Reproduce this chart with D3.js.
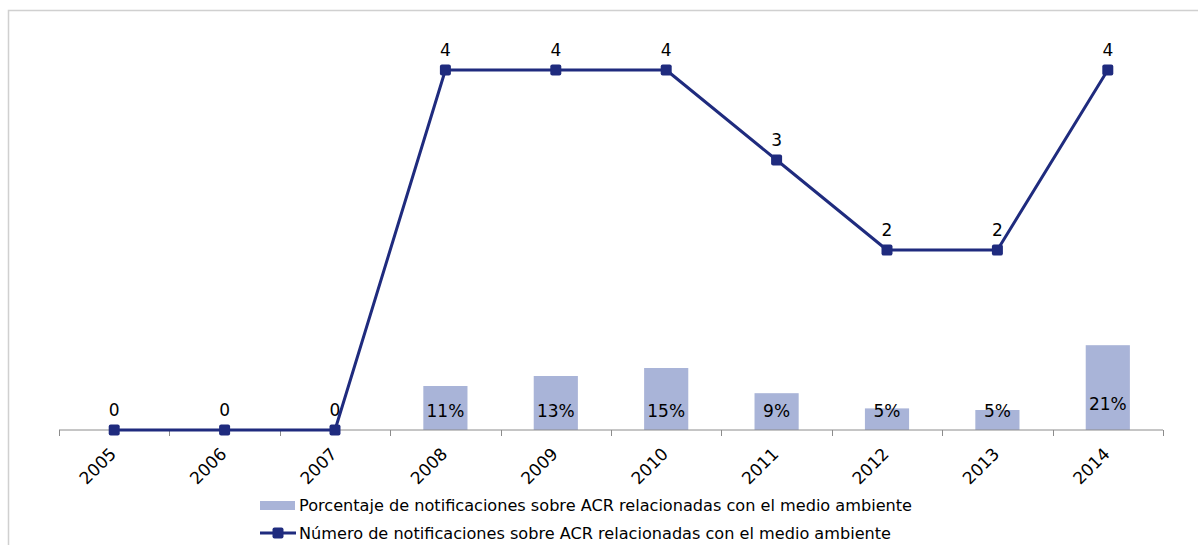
<!DOCTYPE html>
<html>
<head>
<meta charset="utf-8">
<script src="https://cdn.jsdelivr.net/npm/d3@7"></script>
<style>
  body { margin: 0; background: #fff; }
  svg { display: block; }
</style>
</head>
<body>
<div id="chart"></div>
<script>
const years = ["2005", "2006", "2007", "2008", "2009", "2010", "2011", "2012", "2013", "2014"]
const counts = [0, 0, 0, 4, 4, 4, 3, 2, 2, 4]
const shares = [null, null, null, 0.11, 0.135, 0.155, 0.092, 0.054, 0.05, 0.212]
const shareLabels = [null, null, null, "11%", "13%", "15%", "9%", "5%", "5%", "21%"]
const legendNames = [
  "Porcentaje de notificaciones sobre ACR relacionadas con el medio ambiente",
  "Número de notificaciones sobre ACR relacionadas con el medio ambiente"
]

const width = 1198, height = 545
const lineColor = "#1f2b7e"
const barColor = "#a9b4d8"
const font = "'DejaVu Sans', Verdana, sans-serif"

const svg = d3.select("#chart").append("svg")
  .attr("width", width)
  .attr("height", height)
  .style("font-family", font)

/* outer frame, runs off the right and bottom edge */
svg.append("path")
  .attr("d", `M8.5,${height + 2}V10.5H${width + 2}`)
  .attr("fill", "none")
  .attr("stroke", "#d0d0d0")
  .attr("stroke-width", 1.5)

const x = d3.scaleBand().domain(years).range([59, 1163])
const y = d3.scaleLinear().domain([0, 4]).range([430, 70])
const y2 = d3.scaleLinear().domain([0, 0.9]).range([430, 70])
const cx = d => x(d) + x.bandwidth() / 2

/* bars */
const barData = years.map((yr, i) => ({ yr, v: shares[i], label: shareLabels[i] })).filter(d => d.v != null)
const barW = x.bandwidth() * 0.4

svg.append("g")
  .selectAll("rect")
  .data(barData)
  .join("rect")
  .attr("x", d => cx(d.yr) - barW / 2)
  .attr("y", d => y2(d.v))
  .attr("width", barW)
  .attr("height", d => y2(0) - y2(d.v))
  .attr("fill", barColor)

svg.append("g")
  .selectAll("text")
  .data(barData)
  .join("text")
  .attr("x", d => cx(d.yr))
  .attr("y", d => Math.min(y2(d.v) + 65, y2(0) - 13.5))
  .attr("text-anchor", "middle")
  .attr("font-size", 17)
  .attr("fill", "#000")
  .text(d => d.label)

/* x axis */
const axis = svg.append("g").attr("transform", `translate(0,${y(0)})`)
axis.append("line")
  .attr("x1", 59).attr("x2", 1163)
  .attr("stroke", "#8c8c8c").attr("stroke-width", 1)
axis.selectAll("line.tick")
  .data(years.concat(["end"]))
  .join("line")
  .attr("class", "tick")
  .attr("x1", (d, i) => Math.round(59 + i * x.step()) + 0.5)
  .attr("x2", (d, i) => Math.round(59 + i * x.step()) + 0.5)
  .attr("y1", 0).attr("y2", 6)
  .attr("stroke", "#8c8c8c")
axis.selectAll("text")
  .data(years)
  .join("text")
  .attr("transform", d => `translate(${cx(d) + 3},${25}) rotate(-45)`)
  .attr("text-anchor", "end")
  .attr("font-size", 17)
  .attr("fill", "#000")
  .text(d => d)

/* line series */
const line = d3.line().x((d, i) => cx(years[i])).y(d => y(d))
svg.append("path")
  .datum(counts)
  .attr("d", line)
  .attr("fill", "none")
  .attr("stroke", lineColor)
  .attr("stroke-width", 3)
  .attr("stroke-linejoin", "round")

svg.append("g")
  .selectAll("rect")
  .data(counts)
  .join("rect")
  .attr("x", (d, i) => cx(years[i]) - 5.5)
  .attr("y", d => y(d) - 5.5)
  .attr("width", 11).attr("height", 11)
  .attr("rx", 2)
  .attr("fill", lineColor)

svg.append("g")
  .selectAll("text")
  .data(counts)
  .join("text")
  .attr("x", (d, i) => cx(years[i]))
  .attr("y", d => y(d) - 14.5)
  .attr("text-anchor", "middle")
  .attr("font-size", 17)
  .attr("fill", "#000")
  .text(d => d)

/* legend */
const legend = svg.append("g").attr("transform", "translate(260,0)")
legend.append("rect")
  .attr("x", 0).attr("y", 501)
  .attr("width", 35).attr("height", 9)
  .attr("fill", barColor)
legend.append("line")
  .attr("x1", 0).attr("x2", 36)
  .attr("y1", 533).attr("y2", 533)
  .attr("stroke", lineColor).attr("stroke-width", 3)
legend.append("rect")
  .attr("x", 12.5).attr("y", 527.5)
  .attr("width", 11).attr("height", 11)
  .attr("rx", 2)
  .attr("fill", lineColor)
legend.selectAll("text")
  .data(legendNames)
  .join("text")
  .attr("x", 39)
  .attr("y", (d, i) => 511 + i * 28)
  .attr("font-size", 16)
  .attr("fill", "#000")
  .attr("textLength", (d, i) => i === 0 ? 613 : 592)
  .attr("lengthAdjust", "spacingAndGlyphs")
  .text(d => d)
</script>
</body>
</html>
